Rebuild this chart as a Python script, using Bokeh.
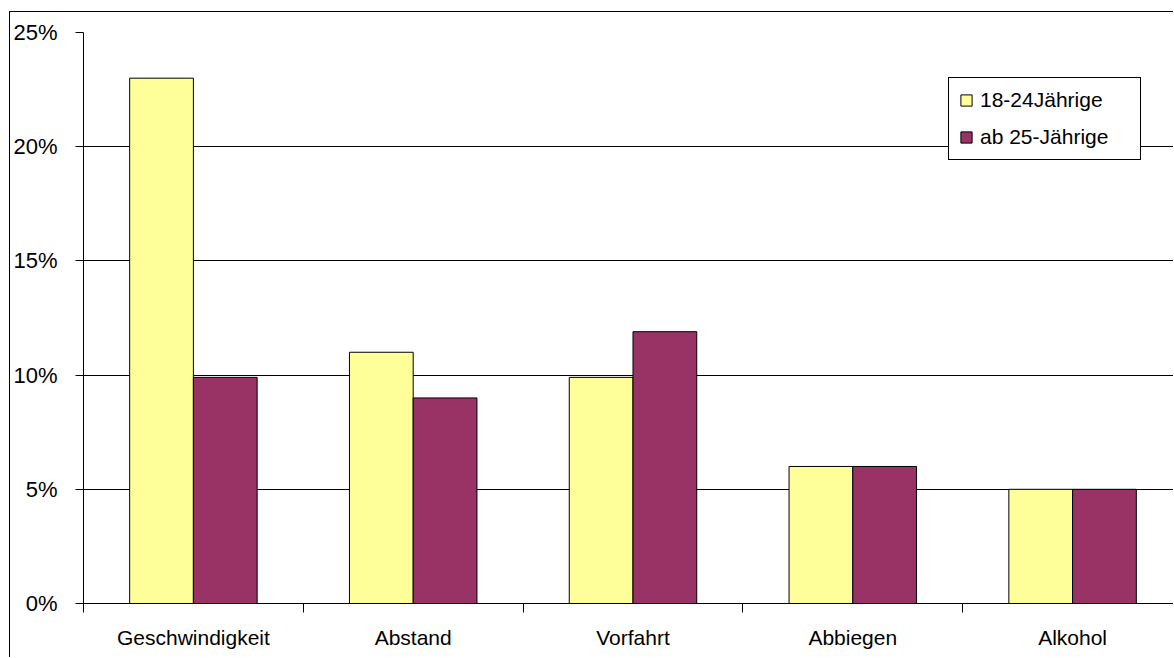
from bokeh.plotting import figure
from bokeh.models import ColumnDataSource, Range1d, FixedTicker, Legend, LegendItem
from bokeh.embed import file_html
from bokeh.resources import INLINE

categories = ["Geschwindigkeit", "Abstand", "Vorfahrt", "Abbiegen", "Alkohol"]
series_names = ["18-24Jährige", "ab 25-Jährige"]
young = [23.0, 11.0, 9.9, 6.0, 5.0]
older = [9.9, 9.0, 11.9, 6.0, 5.0]
y_ticks = [0, 5, 10, 15, 20, 25]
y_tick_labels = ["0%", "5%", "10%", "15%", "20%", "25%"]

colors = ["#FFFF99", "#993366"]
FONT = "Liberation Sans"

fig_w, fig_h = 1164, 646
b_left, b_top, b_bottom = 72, 20, 55
cat_px = 220
frame_w = fig_w - b_left
x_end = frame_w / cat_px
bar_w = 0.29

centers = [i + 0.5 for i in range(len(categories))]
src = ColumnDataSource(dict(
    x1=[c - bar_w / 2 for c in centers],
    x2=[c + bar_w / 2 for c in centers],
    young=young, older=older))

p = figure(width=fig_w, height=fig_h, output_backend="svg", toolbar_location=None,
           x_range=Range1d(0, x_end), y_range=Range1d(0, 25),
           min_border_left=b_left, min_border_top=b_top, min_border_bottom=b_bottom,
           min_border_right=0, outline_line_color=None,
           styles={"border-left": "1px solid #000", "border-top": "1px solid #000",
                   "margin-left": "9px", "margin-top": "11px"})
p.background_fill_color = "white"
p.border_fill_color = "white"

r1 = p.vbar(x="x1", top="young", width=bar_w, bottom=0, source=src,
            fill_color=colors[0], line_color="#000000", line_width=1)
r2 = p.vbar(x="x2", top="older", width=bar_w, bottom=0, source=src,
            fill_color=colors[1], line_color="#000000", line_width=1)

# grid
p.xgrid.visible = False
p.ygrid.ticker = FixedTicker(ticks=y_ticks)
p.ygrid.grid_line_color = "#000000"
p.ygrid.grid_line_width = 1

# y axis
ya = p.yaxis[0]
ya.ticker = FixedTicker(ticks=y_ticks)
ya.major_label_overrides = {t: l for t, l in zip(y_ticks, y_tick_labels)}
ya.axis_line_color = "#000000"
ya.major_tick_out = 8
ya.major_tick_in = 0
ya.minor_tick_out = 0
ya.minor_tick_in = 0
ya.major_tick_line_color = "#000000"
ya.major_label_text_font = FONT
ya.major_label_text_font_size = "22px"
ya.major_label_text_color = "#000000"
ya.major_label_standoff = 18

# x axis
xa = p.xaxis[0]
xa.ticker = FixedTicker(ticks=centers, minor_ticks=list(range(len(categories) + 1)))
xa.major_label_overrides = {c: n for c, n in zip(centers, categories)}
xa.axis_line_color = "#000000"
xa.major_tick_out = 0
xa.major_tick_in = 0
xa.minor_tick_out = 9
xa.minor_tick_in = 0
xa.minor_tick_line_color = "#000000"
xa.major_label_text_font = FONT
xa.major_label_text_font_size = "21px"
xa.major_label_text_color = "#000000"
xa.major_label_standoff = 13

legend = Legend(items=[LegendItem(label=series_names[0], renderers=[r1]),
                       LegendItem(label=series_names[1], renderers=[r2])],
                location=(865, 443))
legend.border_line_color = "#000000"
legend.border_line_alpha = 1
legend.border_line_width = 1
legend.background_fill_color = "white"
legend.background_fill_alpha = 1
legend.label_text_font = FONT
legend.label_text_font_size = "21px"
legend.label_text_color = "#000000"
legend.glyph_width = 14
legend.glyph_height = 14
legend.label_standoff = 7
legend.label_width = 150
legend.padding = 10
legend.spacing = 13
legend.margin = 0
p.add_layout(legend)

open("out.html", "w").write(file_html(p, INLINE))
